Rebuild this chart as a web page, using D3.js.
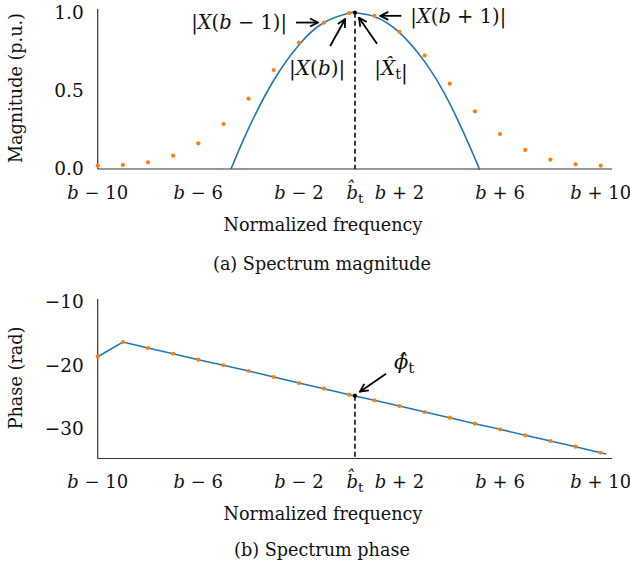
<!DOCTYPE html>
<html>
<head>
<meta charset="utf-8">
<script src="https://cdn.jsdelivr.net/npm/d3@7"></script>
<style>
  html, body { margin: 0; padding: 0; background: #fff; }
  svg text { font-family: "DejaVu Serif", serif; fill: #111; }
</style>
</head>
<body>
<svg id="fig" width="630" height="570"></svg>
<script>
// Bin offsets relative to the peak bin b
const binOffsets = [-10, -9, -8, -7, -6, -5, -4, -3, -2, -1, 0, 1, 2, 3, 4, 5, 6, 7, 8, 9, 10];
// Normalised DFT magnitude at each bin
const magnitude = [0.021, 0.026, 0.043, 0.085, 0.164, 0.288, 0.450, 0.633, 0.808, 0.937, 0.998,
                   0.980, 0.878, 0.727, 0.546, 0.369, 0.224, 0.122, 0.060, 0.030, 0.021];
// Parabolic peak fit through |X(b-1)|, |X(b)|, |X(b+1)|
const fitX = [-4.70, -4, -3, -2, -1, 0, 0.23, 1, 2, 3, 4, 5, 5.16];
const fitY = [0, 0.260, 0.568, 0.794, 0.937, 0.998, 1.0, 0.976, 0.873, 0.687, 0.418, 0.068, 0];
// Unwrapped phase at each bin (rad)
const phase = [-18.6, -16.28, -17.23, -18.13, -19.07, -19.95, -20.85, -21.8, -22.75, -23.64, -24.59,
               -25.47, -26.37, -27.32, -28.22, -29.16, -30.05, -30.99, -31.89, -32.79, -33.74];
// Phase line continues slightly past the last bin
const phaseTailX = [10.22];
const phaseTailY = [-33.94];
// Estimated peak location and its magnitude / phase
const peakOffset = 0.23;
const peakMag = 1.0;
const peakPhase = -24.75;
// Axis ticks
const xTickValues = [-10, -6, -2, 2, 6, 10];
const magTicks = [0, 0.5, 1.0];
const phaseTicks = [-10, -20, -30];

const svg = d3.select("#fig");
const BLUE = "#1f77b4", ORANGE = "#ff7f0e", AXIS = "#333";
const TICK_FS = 18, YTICK_FS = 18.5, LABEL_FS = 17.6, NOTE_FS = 19.5;

const x = d3.scaleLinear().domain([-10, 10.45]).range([97.7, 612]);
const yMag = d3.scaleLinear().domain([0, 1.025]).range([169, 8.8]);
const yPh = d3.scaleLinear().domain([-34.65, -9.5]).range([458.5, 299]);

svg.append("defs").append("marker")
  .attr("id", "arr").attr("viewBox", "0 0 10 10").attr("refX", 9).attr("refY", 5)
  .attr("markerWidth", 10).attr("markerHeight", 10).attr("markerUnits", "userSpaceOnUse")
  .attr("orient", "auto")
  .append("path").attr("d", "M1,1 L9,5 L1,9").attr("fill", "none")
  .attr("stroke", "#000").attr("stroke-width", 1.8).attr("stroke-linejoin", "miter");

// Writes "b − n" style tick labels with an italic b
function binLabel(sel, d) {
  sel.append("tspan").attr("font-style", "italic").text("b");
  const sign = d < 0 ? " \u2212 " : " + ";
  sel.append("tspan").text(sign + Math.abs(d));
}
function bHatLabel(sel) {
  sel.append("tspan").attr("font-style", "italic").text("b\u0302");
  sel.append("tspan").attr("font-size", 13.5).attr("dy", 4).text("t");
}

function drawAxes(g, yScale, ticks, fmt, yBottom, yTop, tickLabelY, title, titleY) {
  // axis lines
  g.append("line").attr("x1", x.range()[0]).attr("x2", x.range()[0])
    .attr("y1", yTop).attr("y2", yBottom).attr("stroke", AXIS).attr("stroke-width", 1.2);
  g.append("line").attr("x1", x.range()[0]).attr("x2", x.range()[1])
    .attr("y1", yBottom).attr("y2", yBottom).attr("stroke", AXIS).attr("stroke-width", 1.2);
  // y tick labels
  g.selectAll(".yt").data(ticks).join("text")
    .attr("x", x.range()[0] - 14).attr("y", d => yScale(d)).attr("dy", "0.33em")
    .attr("text-anchor", "end").attr("font-size", YTICK_FS).text(fmt);
  // x tick labels
  g.selectAll(".xt").data(xTickValues).join("text")
    .attr("x", d => x(d)).attr("y", tickLabelY).attr("text-anchor", "middle")
    .attr("font-size", TICK_FS).each(function (d) { binLabel(d3.select(this), d); });
  g.append("text").attr("x", x(peakOffset)).attr("y", tickLabelY).attr("text-anchor", "middle")
    .attr("font-size", TICK_FS).call(bHatLabel);
  // axis titles
  g.append("text").attr("x", 323).attr("y", tickLabelY + 32).attr("text-anchor", "middle")
    .attr("font-size", LABEL_FS).text("Normalized frequency");
  g.append("text").attr("transform", `translate(22,${titleY}) rotate(-90)`)
    .attr("text-anchor", "middle").attr("font-size", LABEL_FS).text(title);
}

const minus = v => (v < 0 ? "\u2212" : "") + Math.abs(v);

// ---- (a) magnitude ----
const gA = svg.append("g");
drawAxes(gA, yMag, magTicks, d => d.toFixed(1), 169, 9, 199, "Magnitude (p.u.)", 88);

gA.append("path").datum(fitX.map((v, i) => [v, fitY[i]]))
  .attr("d", d3.line().x(d => x(d[0])).y(d => yMag(d[1])).curve(d3.curveNatural))
  .attr("fill", "none").attr("stroke", BLUE).attr("stroke-width", 1.6);

gA.append("line").attr("x1", x(peakOffset)).attr("x2", x(peakOffset))
  .attr("y1", yMag(peakMag)).attr("y2", yMag(0))
  .attr("stroke", "#000").attr("stroke-width", 1.5).attr("stroke-dasharray", "5,3");

gA.selectAll(".dot").data(binOffsets).join("circle")
  .attr("cx", d => x(d)).attr("cy", (d, i) => yMag(magnitude[i])).attr("r", 2.1).attr("fill", ORANGE);
gA.append("circle").attr("cx", x(peakOffset)).attr("cy", yMag(peakMag)).attr("r", 2.1).attr("fill", "#000");

function arrow(g, x1, y1, x2, y2) {
  g.append("line").attr("x1", x1).attr("y1", y1).attr("x2", x2).attr("y2", y2)
    .attr("stroke", "#000").attr("stroke-width", 1.8).attr("marker-end", "url(#arr)");
}
function absLabel(sel, inner) {
  sel.append("tspan").text("|");
  inner(sel);
  sel.append("tspan").text("|");
}
const iMinus1 = binOffsets.indexOf(-1), i0 = binOffsets.indexOf(0), iPlus1 = binOffsets.indexOf(1);

// |X(b − 1)|
{
  const px = x(-1), py = yMag(magnitude[iMinus1]);
  arrow(gA, px - 28, py, px - 6, py);
  gA.append("text").attr("x", px - 37).attr("y", py).attr("dy", "0.35em").attr("text-anchor", "end")
    .attr("font-size", NOTE_FS).call(s => absLabel(s, t => {
      t.append("tspan").attr("font-style", "italic").text("X");
      t.append("tspan").text("(");
      t.append("tspan").attr("font-style", "italic").text("b");
      t.append("tspan").text(" \u2212 1)");
    }));
}
// |X(b + 1)|
{
  const px = x(1), py = yMag(magnitude[iPlus1]);
  arrow(gA, px + 27, py, px + 6, py);
  gA.append("text").attr("x", px + 36).attr("y", py).attr("dy", "0.35em").attr("text-anchor", "start")
    .attr("font-size", NOTE_FS).call(s => absLabel(s, t => {
      t.append("tspan").attr("font-style", "italic").text("X");
      t.append("tspan").text("(");
      t.append("tspan").attr("font-style", "italic").text("b");
      t.append("tspan").text(" + 1)");
    }));
}
// |X(b)|
{
  const px = x(0), py = yMag(magnitude[i0]);
  arrow(gA, px - 19, py + 33, px - 4, py + 6);
  gA.append("text").attr("x", px - 32).attr("y", py + 55).attr("dy", "0.35em").attr("text-anchor", "middle")
    .attr("font-size", NOTE_FS + 0.5).call(s => absLabel(s, t => {
      t.append("tspan").attr("font-style", "italic").text("X");
      t.append("tspan").text("(");
      t.append("tspan").attr("font-style", "italic").text("b");
      t.append("tspan").text(")");
    }));
}
// |X̂t|
{
  const px = x(peakOffset), py = yMag(peakMag);
  arrow(gA, px + 22, py + 31, px + 4, py + 5);
  gA.append("text").attr("x", px + 36).attr("y", py + 55).attr("dy", "0.35em").attr("text-anchor", "middle")
    .attr("font-size", NOTE_FS + 0.5).call(s => absLabel(s, t => {
      t.append("tspan").attr("font-style", "italic").text("X\u0302");
      t.append("tspan").attr("font-size", 14.5).attr("dy", 4).text("t");
      t.append("tspan").attr("dy", -4).text("");
    }));
}

svg.append("text").attr("x", 322).attr("y", 264).attr("dy", "0.35em").attr("text-anchor", "middle")
  .attr("font-size", LABEL_FS).text("(a) Spectrum magnitude");

// ---- (b) phase ----
const gB = svg.append("g");
drawAxes(gB, yPh, phaseTicks, minus, 458.5, 299, 488, "Phase (rad)", 378);

const phaseLine = binOffsets.map((v, i) => [v, phase[i]])
  .concat(phaseTailX.map((v, i) => [v, phaseTailY[i]]));
gB.append("path").datum(phaseLine)
  .attr("d", d3.line().x(d => x(d[0])).y(d => yPh(d[1])))
  .attr("fill", "none").attr("stroke", BLUE).attr("stroke-width", 1.6);

gB.append("line").attr("x1", x(peakOffset)).attr("x2", x(peakOffset))
  .attr("y1", yPh(peakPhase)).attr("y2", 458.5)
  .attr("stroke", "#000").attr("stroke-width", 1.5).attr("stroke-dasharray", "5,3");

gB.selectAll(".dot").data(binOffsets).join("circle")
  .attr("cx", d => x(d)).attr("cy", (d, i) => yPh(phase[i])).attr("r", 2.1).attr("fill", ORANGE);
gB.append("circle").attr("cx", x(peakOffset)).attr("cy", yPh(peakPhase)).attr("r", 2.1).attr("fill", "#000");

{
  const px = x(peakOffset), py = yPh(peakPhase);
  arrow(gB, px + 31, py - 22, px + 5, py - 4);
  const t = gB.append("text").attr("x", px + 39).attr("y", py - 27).attr("font-size", 21);
  t.append("tspan").attr("font-style", "italic").text("\u03D5\u0302");
  t.append("tspan").attr("font-size", 15).attr("dy", 4).text("t");
}

svg.append("text").attr("x", 322).attr("y", 550).attr("dy", "0.35em").attr("text-anchor", "middle")
  .attr("font-size", LABEL_FS).text("(b) Spectrum phase");
</script>
</body>
</html>
